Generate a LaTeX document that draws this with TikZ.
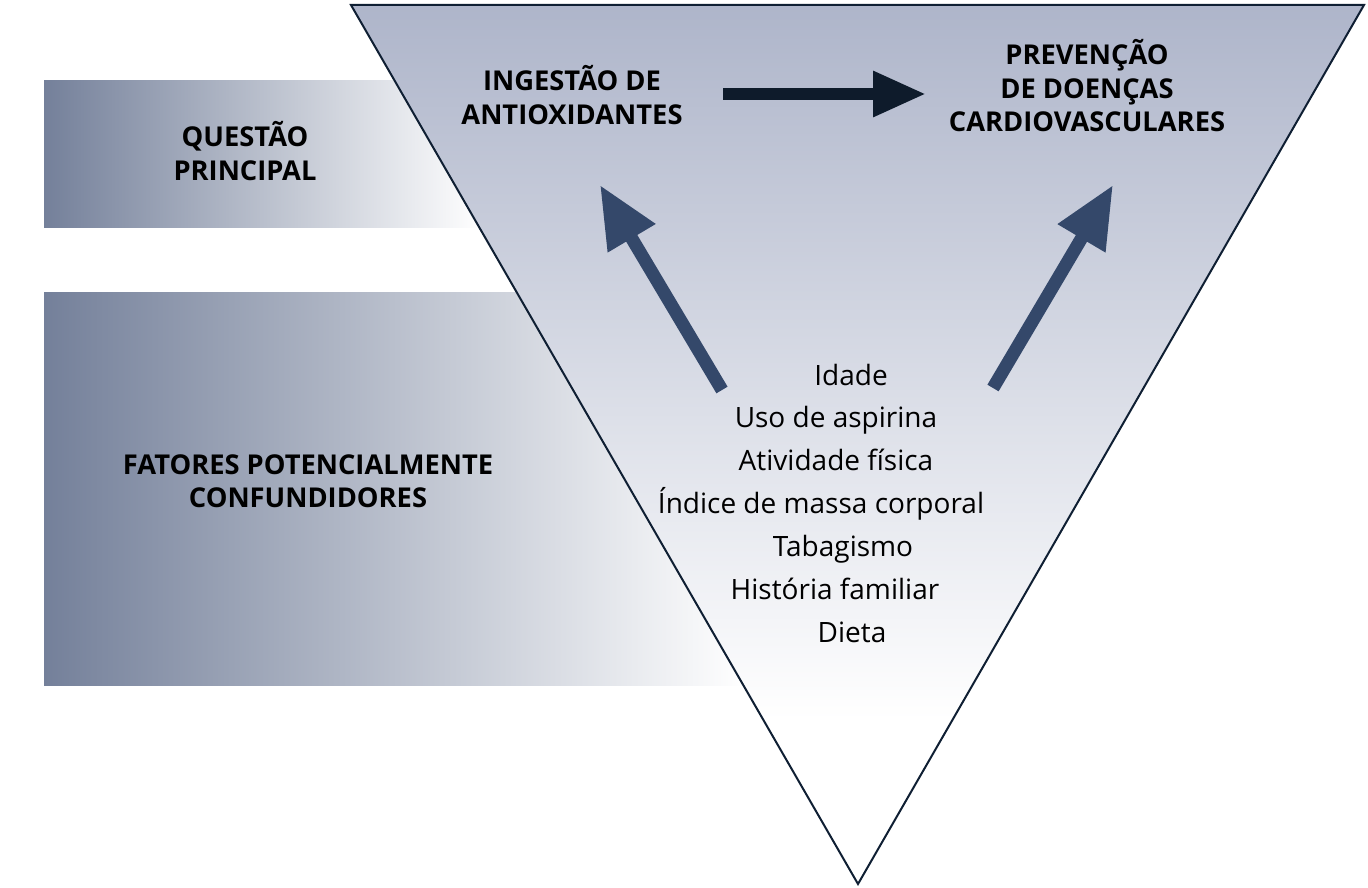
\documentclass[tikz,border=0pt]{standalone}
\usepackage{fontspec}
\setmainfont{Open Sans}
\usetikzlibrary{arrows.meta}
\definecolor{bandL}{HTML}{74809A}
\definecolor{triTop}{HTML}{AEB5CA}
\definecolor{edge}{HTML}{0F1F33}
\definecolor{darkArr}{HTML}{0E1B2B}
\definecolor{blueArr}{HTML}{34486A}
\tikzset{
  band/.style={left color=bandL, right color=white, draw=none},
  head/.style={font=\bfseries\fontsize{27.3}{33.5}\selectfont, align=center, text=black, inner sep=0pt},
  item/.style={font=\fontsize{28}{30}\selectfont, text=black, inner sep=0pt, anchor=base},
  bigarrow/.style={line width=12pt, -{Triangle[length=53pt,width=43pt]}, darkArr},
  diagarrow/.style={line width=13pt, -{Triangle[length=62pt,width=52pt]}, blueArr}
}
\begin{document}
\begin{tikzpicture}[x=1pt,y=-1pt]
\useasboundingbox (0,0) rectangle (1368,888);
% bands
\fill[band] (44,81) rectangle (482,227);
\fill[band] (44,292) rectangle (745,685);
% triangle
\fill[white] (351,5) -- (1364,5) -- (858,884) -- cycle;
\begin{scope}
\clip (351,5) -- (1364,5) -- (858,884) -- cycle;
\shade[top color=triTop, bottom color=white] (351,5) rectangle (1364,720);
\end{scope}
\draw[edge, line width=2pt, line join=miter] (351,5) -- (1364,5) -- (858,884) -- cycle;
% labels
\node[head] (q) at (245,151) {QUESTÃO\\PRINCIPAL};
\node[head] (f) at (308,481) {FATORES POTENCIALMENTE\\CONFUNDIDORES};
\node[head] (ing) at (572,95) {INGESTÃO DE\\ANTIOXIDANTES};
\node[head] (prev) at (1087,86) {PREVENÇÃO\\DE DOENÇAS\\CARDIOVASCULARES};
% list
\node[item] (l1) at (851,385) {Idade};
\node[item] (l2) at (836,427) {Uso de aspirina};
\node[item] (l3) at (836,470) {Atividade física};
\node[item] (l4) at (821,513) {Índice de massa corporal};
\node[item] (l5) at (843,556) {Tabagismo};
\node[item] (l6) at (835,599) {História familiar};
\node[item] (l7) at (852,642) {Dieta};
% arrow endpoints
\coordinate (hA) at (723,94);
\coordinate (hB) at (926,94);
\coordinate (lA) at (722,390);
\coordinate (lB) at (600,185);
\coordinate (rA) at (993,388);
\coordinate (rB) at (1113,185);
\draw[bigarrow] (hA) -- (hB);
\draw[diagarrow] (lA) -- (lB);
\draw[diagarrow] (rA) -- (rB);
\end{tikzpicture}
\end{document}
